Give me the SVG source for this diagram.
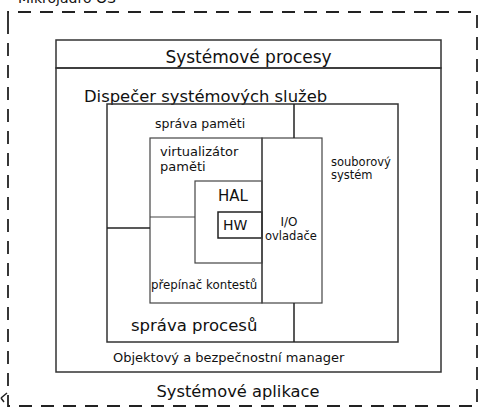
<svg xmlns="http://www.w3.org/2000/svg" width="488" height="414" viewBox="0 0 488 414">
<style>
text{font-family:"DejaVu Sans",Verdana,sans-serif;fill:#111}
.box{fill:none;stroke:#333;stroke-width:1.5}
.thin{fill:none;stroke:#444;stroke-width:1.2}
.ln{stroke:#222;stroke-width:1.5;fill:none}
.dash{fill:none;stroke:#222;stroke-width:1.8;stroke-dasharray:13 9}
</style>
<rect width="488" height="414" fill="#fff"/>
<g id="os-boundary">
<path class="dash" d="M8,24 V12 H477 V406 H8 V24"/>
<text x="18" y="3" font-size="14">Mikrojádro OS</text>
<text x="238" y="397" font-size="16.3" text-anchor="middle">Systémové aplikace</text>
<path d="M1,398 L7,393 M1,398 L4,402" stroke="#222" stroke-width="1.5" fill="none"/>
</g>
<g id="system-processes">
<rect class="box" x="56" y="40" width="385" height="28"/>
<text x="248.5" y="63" font-size="17" text-anchor="middle">Systémové procesy</text>
</g>
<g id="service-dispatcher">
<rect class="box" x="56" y="68" width="385" height="304"/>
<text x="84" y="102" font-size="16.4">Dispečer systémových služeb</text>
<text x="113" y="362" font-size="13">Objektový a bezpečnostní manager</text>
</g>
<g id="memory-management">
<rect class="box" x="107" y="104" width="291" height="238"/>
<text x="155" y="128" font-size="12.5">správa paměti</text>
<text x="131" y="331" font-size="16.5">správa procesů</text>
<text x="331" y="166" font-size="11.5">souborový</text>
<text x="331" y="179" font-size="11.5">systém</text>
</g>
<g id="memory-virtualizer">
<rect class="thin" x="150" y="138" width="112" height="165"/>
<text x="160" y="156" font-size="13">virtualizátor</text>
<text x="160" y="171" font-size="13">paměti</text>
<text x="151" y="289" font-size="11.8">přepínač kontestů</text>
</g>
<g id="hal">
<rect class="thin" x="195" y="181" width="67" height="82"/>
<text x="218" y="201" font-size="15">HAL</text>
</g>
<g id="hw">
<rect class="ln" x="218" y="212" width="44" height="26"/>
<text x="223" y="230" font-size="14">HW</text>
</g>
<g id="io-drivers">
<rect class="thin" x="262" y="138" width="60" height="165"/>
<text x="289" y="226" font-size="12" text-anchor="middle">I/O</text>
<text x="265" y="240" font-size="11.5">ovladače</text>
</g>
<g id="connectors">
<line class="ln" x1="294" y1="104" x2="294" y2="138"/>
<line class="ln" x1="294" y1="303" x2="294" y2="342"/>
<line class="ln" x1="107" y1="228" x2="150" y2="228"/>
<line class="thin" x1="150" y1="217" x2="195" y2="217"/>
</g>
</svg>
